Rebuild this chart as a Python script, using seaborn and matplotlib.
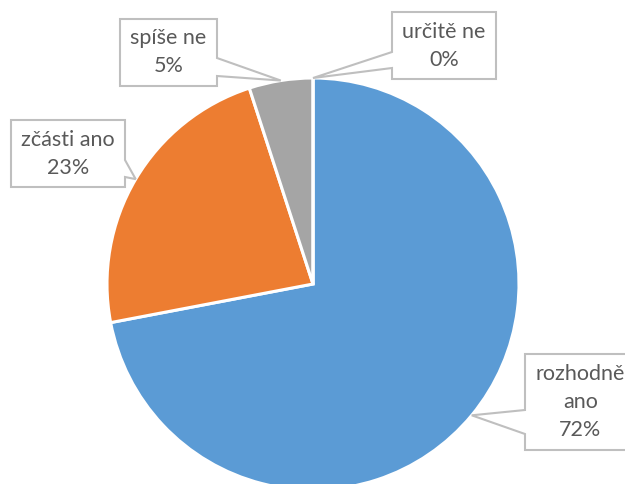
import numpy as np
import seaborn as sns
import matplotlib.pyplot as plt
from matplotlib.patches import Polygon

sns.set_theme(style="white")
plt.rcParams['font.family'] = ['Lato', 'DejaVu Sans']

labels = ["rozhodně\nano", "zčásti ano", "spíše ne", "určitě ne"]
values = [72, 23, 5, 0]
colors = ["#5B9BD5", "#ED7D31", "#A5A5A5", "#FFC000"]

W, H = 625, 484
cx, cy, R = 313, 284, 206  # pixel coords, y down

# callout boxes: (left, top, right, bottom, side, base_y1, base_y2)
boxes = [
    (525, 354, 636, 450, "left", 410, 434),
    (11, 120, 125, 187, "right", 160, 177),
    (120, 19, 217, 86, "right", 58, 76),
    (392, 12, 496, 79, "left", 52, 68),
]

fig = plt.figure(figsize=(W / 100, H / 100), dpi=100)
ax = fig.add_axes([0, 0, 1, 1])

ax.pie(values, colors=colors, startangle=90, counterclock=False,
       center=(cx, H - cy), radius=R,
       wedgeprops=dict(edgecolor="white", linewidth=2.2))
ax.set_xlim(0, W)
ax.set_ylim(0, H)
ax.set_aspect("equal")
ax.axis("off")

total = sum(values)
start = 0.0
for lab, v, (l, t, r, b, side, y1, y2) in zip(labels, values, boxes):
    frac = v / total
    mid = (start + frac / 2) * 2 * np.pi
    start += frac
    tx = cx + R * np.sin(mid)
    ty = cy - R * np.cos(mid)
    if side == "right":
        pts = [(l, t), (r, t), (r, y1), (tx, ty), (r, y2), (r, b), (l, b)]
    else:
        pts = [(l, t), (r, t), (r, b), (l, b), (l, y2), (tx, ty), (l, y1)]
    pts = [(x, H - y) for x, y in pts]
    ax.add_patch(Polygon(pts, closed=True, facecolor="white",
                         edgecolor="#BFBFBF", linewidth=1.5, zorder=5,
                         clip_on=False))
    ax.text((l + r) / 2, H - (t + b) / 2, f"{lab}\n{v}%", ha="center",
            va="center", fontsize=15.5, color="#595959", linespacing=1.5,
            zorder=6)

fig.savefig("out.png", dpi=100)
